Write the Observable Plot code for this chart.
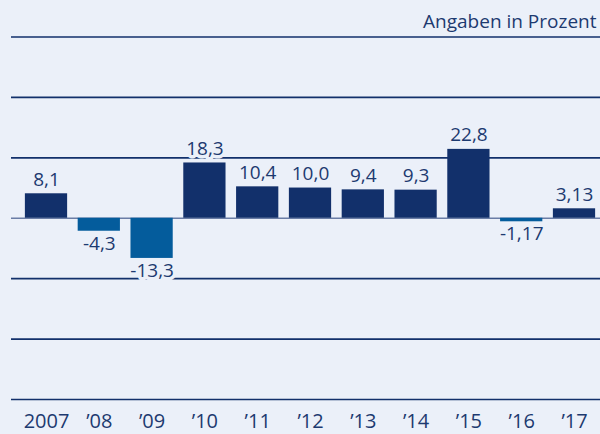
<!DOCTYPE html>
<html>
<head>
<meta charset="utf-8">
<script src="https://cdn.jsdelivr.net/npm/d3@7"></script>
<script src="https://cdn.jsdelivr.net/npm/@observablehq/plot@0.6"></script>
<style>
  html, body { margin: 0; padding: 0; background: #ebf0f9; }
  #chart svg { display: block; }
</style>
</head>
<body>
<div id="chart"></div>
<script>
const years = ["2007","2008","2009","2010","2011","2012","2013","2014","2015","2016","2017"];
const tickLabels = ["2007","’08","’09","’10","’11","’12","’13","’14","’15","’16","’17"];
const values = [8.1, -4.3, -13.3, 18.3, 10.4, 10.0, 9.4, 9.3, 22.8, -1.17, 3.13];
const valueLabels = ["8,1","-4,3","-13,3","18,3","10,4","10,0","9,4","9,3","22,8","-1,17","3,13"];
const gridValues = [-60, -40, -20, 20, 40, 60];
const unitNote = "Angaben in Prozent";

const data = years.map((y, i) => ({year: y, value: values[i], label: valueLabels[i]}));
const tickMap = new Map(years.map((y, i) => [y, tickLabels[i]]));

const BG = "#ebf0f9";
const NAVY = "#12306b";
const NEG = "#045c9c";
const TEXT = "#1d3a70";
const FONT = "'Open Sans', sans-serif";

const chart = Plot.plot({
  width: 600,
  height: 434,
  marginTop: 36.5,
  marginBottom: 35,
  marginLeft: 11,
  marginRight: 0,
  style: {background: BG, fontFamily: FONT, color: TEXT},
  x: {domain: years, range: [19.6, 600.4], paddingInner: 0.2, paddingOuter: 0.1, round: false, label: null},
  y: {domain: [-60, 60], axis: null},
  marks: [
    Plot.ruleY(gridValues, {stroke: NAVY, strokeWidth: 1.6}),
    Plot.ruleY([0], {stroke: "#6a7da6", strokeWidth: 1.6}),
    Plot.barY(data, {x: "year", y: "value", fill: d => d.value >= 0 ? NAVY : NEG}),
    Plot.text(data.filter(d => d.value >= 0), {
      x: "year", y: "value", text: "label", lineAnchor: "bottom", dy: -8,
      fontSize: 19, fill: TEXT, stroke: BG, strokeWidth: 7, fontFamily: FONT
    }),
    Plot.text(data.filter(d => d.value < 0), {
      x: "year", y: "value", text: "label", lineAnchor: "top", dy: 5,
      fontSize: 19, fill: TEXT, stroke: BG, strokeWidth: 7, fontFamily: FONT
    }),
    Plot.text([unitNote], {
      frameAnchor: "top-right", textAnchor: "end", lineAnchor: "bottom", dy: -9, dx: -4,
      fontSize: 19, fill: TEXT, fontFamily: FONT
    }),
    Plot.axisX({
      tickSize: 0, tickPadding: 14, fontSize: 20, color: TEXT,
      tickFormat: d => tickMap.get(d), label: null
    })
  ]
});
document.getElementById("chart").append(chart);
</script>
</body>
</html>
